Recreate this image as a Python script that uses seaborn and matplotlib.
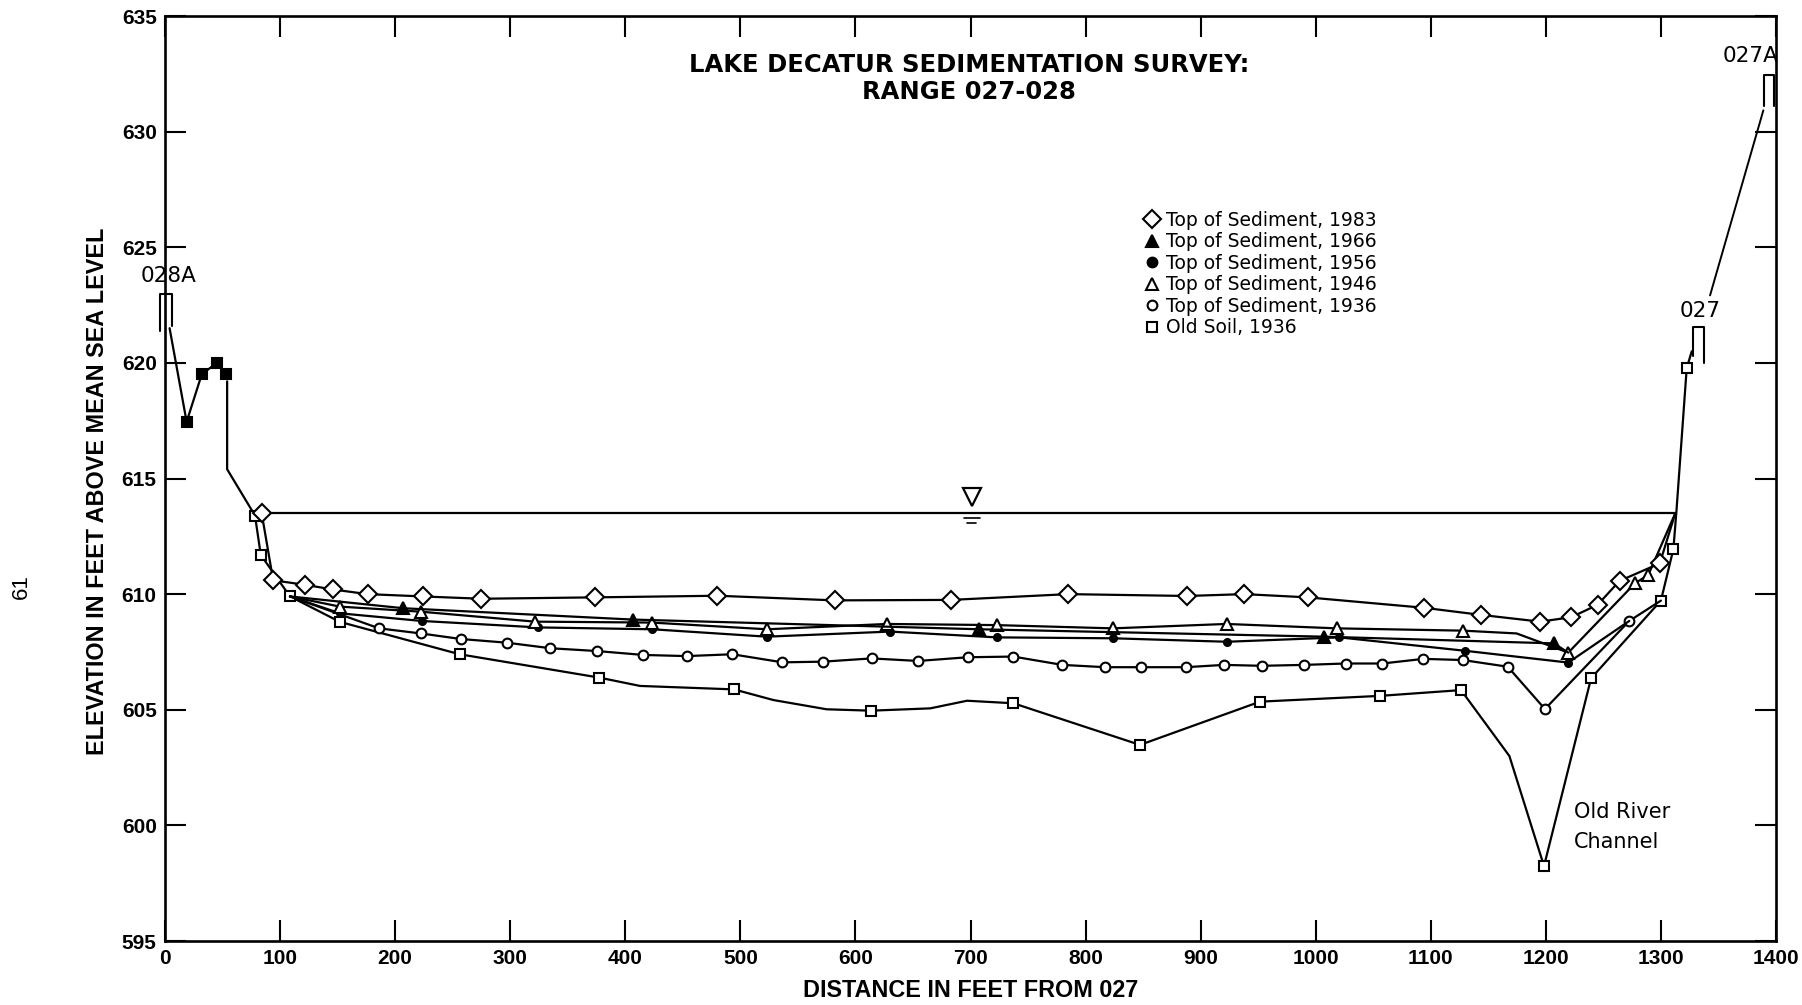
import matplotlib
matplotlib.use("Agg")
import matplotlib.pyplot as plt
import seaborn as sns
from matplotlib.lines import Line2D

# ---------------- data ----------------
xticks = list(range(0, 1401, 100))
yticks = list(range(595, 636, 5))

bank_028a_x = [4, 18.8, 31.9, 44.9, 53]
bank_028a_y = [621.5, 617.45, 619.5, 620.0, 619.5]
bank_028a_mark = [0, 1, 1, 1, 1]

old_soil_x = [54, 54, 78.2, 83.2, 108.6, 152, 256, 377.4, 412.8, 494.5, 528.7, 575, 613.5, 665, 697,
              737.3, 847.3, 951.6, 1055.9, 1126.3, 1168.3, 1198.4, 1239.3, 1300, 1310.8, 1313.5, 1322.4, 1326.8]
old_soil_y = [619.2, 615.4, 613.4, 611.7, 609.9, 608.8, 607.4, 606.39, 606.03, 605.88, 605.42, 605.02, 604.96,
              605.06, 605.39, 605.28, 603.48, 605.35, 605.6, 605.85, 603.0, 598.24, 606.36, 609.72, 611.94,
              613.6, 619.77, 620.5]
old_soil_mark = [0, 0, 1, 1, 1, 1, 1, 1, 0, 1, 0, 0, 1, 0, 0, 1, 1, 1, 1, 1, 0, 1, 1, 1, 1, 0, 1, 0]

sed1936_x = [108.6, 186, 222.3, 257, 297, 335, 375, 415.7, 453.4, 493, 536.6, 572, 614, 654.6, 697.5, 737.2,
             779.8, 817, 848.2, 887, 920.3, 953, 990, 1026.3, 1058, 1093.6, 1127.8, 1166.9, 1199.2, 1272.5, 1300]
sed1936_y = [609.9, 608.52, 608.3, 608.06, 607.9, 607.66, 607.54, 607.37, 607.32, 607.4, 607.05, 607.08,
             607.22, 607.11, 607.27, 607.3, 606.94, 606.84, 606.84, 606.84, 606.94, 606.9, 606.94, 607.0,
             607.0, 607.2, 607.15, 606.86, 605.03, 608.84, 609.72]
sed1936_mark = [0] + [1] * 29 + [0]

sed1946_x = [108.6, 152, 222.5, 321.5, 423, 523, 627.7, 722.6, 823.6, 922.5, 1018.2, 1128.3, 1174.6, 1219.5,
             1277.5, 1289, 1312.5]
sed1946_y = [609.9, 609.46, 609.24, 608.81, 608.77, 608.48, 608.71, 608.66, 608.52, 608.71, 608.52, 608.42,
             608.3, 607.47, 610.47, 610.83, 613.5]
sed1946_mark = [0, 1, 1, 1, 1, 1, 1, 1, 1, 1, 1, 1, 0, 1, 1, 1, 0]

sed1956_x = [108.6, 152, 223, 324.4, 423.5, 523, 630, 722.8, 824, 923, 1020.6, 1129.8, 1219.5, 1272.5]
sed1956_y = [609.9, 609.17, 608.84, 608.56, 608.48, 608.16, 608.38, 608.13, 608.09, 607.94, 608.13, 607.55,
             607.04, 608.84]
sed1956_mark = [0] + [1] * 12 + [0]

sed1966_x = [108.6, 207, 406.4, 707.7, 1007.2, 1207, 1219.5]
sed1966_y = [609.9, 609.39, 608.9, 608.48, 608.16, 607.87, 607.47]
sed1966_mark = [0, 1, 1, 1, 1, 1, 0]

sed1983_x = [84, 94, 122, 146, 176, 224, 275, 374, 480, 582, 683, 785, 888, 938, 993, 1094, 1144, 1195,
             1222, 1245, 1264, 1299, 1312.5]
sed1983_y = [613.5, 610.6, 610.4, 610.2, 610.0, 609.9, 609.8, 609.86, 609.93, 609.73, 609.75, 610.0, 609.92,
             610.0, 609.86, 609.41, 609.1, 608.81, 609.0, 609.54, 610.57, 611.33, 613.5]
sed1983_mark = [1] * 22 + [0]

water_x = [84, 1312.5]
water_y = [613.5, 613.5]

link_027_x = [1342.7, 1389]
link_027_y = [622.92, 630.92]

legend_labels = ["Top of Sediment, 1983", "Top of Sediment, 1966", "Top of Sediment, 1956",
                 "Top of Sediment, 1946", "Top of Sediment, 1936", "Old Soil, 1936"]

# ---------------- drawing ----------------
sns.set_style("ticks")
plt.rcParams["font.family"] = ["Liberation Sans", "DejaVu Sans"]
plt.rcParams["text.color"] = "black"
plt.rcParams["axes.labelcolor"] = "black"
plt.rcParams["xtick.color"] = "black"
plt.rcParams["ytick.color"] = "black"

W, H = 1802, 1005
fig = plt.figure(figsize=(W / 100, H / 100), dpi=100)
fig.patch.set_facecolor("white")
ax = fig.add_axes([165 / W, 1 - 941 / H, (1776 - 165) / W, (941 - 16) / H])
ax.set_facecolor("white")

LW = 1.6
DJ = ["DejaVu Sans"]


def draw(x, y, mark, marker, ms, mfc, z=3):
    idx = [i for i, m in enumerate(mark) if m]
    sns.lineplot(x=x, y=y, sort=False, estimator=None, color="black", lw=LW,
                 marker=marker, markersize=ms, markerfacecolor=mfc, markeredgecolor="black",
                 markeredgewidth=1.5, markevery=idx, ax=ax, legend=False, zorder=z)


sns.lineplot(x=water_x, y=water_y, sort=False, estimator=None, color="black", lw=LW, ax=ax, legend=False)
sns.lineplot(x=link_027_x, y=link_027_y, sort=False, estimator=None, color="black", lw=1.4, ax=ax, legend=False)

draw(bank_028a_x, bank_028a_y, bank_028a_mark, "s", 7, "black")
draw(old_soil_x, old_soil_y, old_soil_mark, "s", 7, "white", 3)
draw(sed1936_x, sed1936_y, sed1936_mark, "o", 7, "white", 4)
draw(sed1956_x, sed1956_y, sed1956_mark, "o", 5, "black", 5)
draw(sed1946_x, sed1946_y, sed1946_mark, "^", 8, "white", 6)
draw(sed1966_x, sed1966_y, sed1966_mark, "^", 8, "black", 7)
draw(sed1983_x, sed1983_y, sed1983_mark, "D", 9, "white", 8)

# station brackets
ax.plot([-4.3, -4.3, 5.8, 5.8], [621.4, 623.0, 623.0, 621.6], color="black", lw=1.5, clip_on=False)
ax.plot([1328, 1328, 1337.5, 1337.5], [620.3, 621.55, 621.55, 620.0], color="black", lw=1.5, clip_on=False)
ax.plot([1390, 1390, 1398.5, 1398.5], [631.1, 632.45, 632.45, 631.1], color="black", lw=1.5, clip_on=False)
ax.text(3.5, 623.75, "028A", ha="center", va="center", fontsize=15.5, family=DJ, color="black")
ax.text(1334, 622.25, "027", ha="center", va="center", fontsize=15.5, family=DJ, color="black")
ax.text(1378, 633.25, "027A", ha="center", va="center", fontsize=15.5, family=DJ, color="black")

# water surface symbol
ax.plot([701], [614.2], marker="v", ms=13, mfc="white", mec="black", mew=1.6, ls="none")
ax.plot([694, 708], [613.28, 613.28], color="black", lw=1.2)
ax.plot([697, 705], [613.08, 613.08], color="black", lw=1.2)

ax.text(1224.5, 600.6, "Old River", ha="left", va="center", fontsize=15, family=DJ, color="black")
ax.text(1224.5, 599.3, "Channel", ha="left", va="center", fontsize=15, family=DJ, color="black")

ax.set_xlim(0, 1400)
ax.set_ylim(595, 635)
ax.set_xticks(xticks)
ax.set_yticks(yticks)
ax.tick_params(direction="in", length=15, width=1.5, top=True, right=True, labelsize=15, pad=6,
               colors="black")
for lab in ax.get_xticklabels() + ax.get_yticklabels():
    lab.set_fontweight("bold")
for s in ax.spines.values():
    s.set_visible(True)
    s.set_linewidth(1.9)
    s.set_color("black")

ax.set_xlabel("DISTANCE IN FEET FROM 027", fontsize=16.8, fontweight="bold", labelpad=8, color="black")
ax.set_ylabel("ELEVATION IN FEET ABOVE MEAN SEA LEVEL", fontsize=16.8, fontweight="bold", labelpad=9,
              color="black")
ax.yaxis.label.set_y(0.4865)

fig.text(969 / W, 1 - 65.5 / H, "LAKE DECATUR SEDIMENTATION SURVEY:", ha="center", va="center",
         fontsize=17.5, fontweight="bold", family=DJ, color="black")
fig.text(969 / W, 1 - 92 / H, "RANGE 027-028", ha="center", va="center", fontsize=17.5,
         fontweight="bold", family=DJ, color="black")
fig.text(21 / W, 1 - 587 / H, "61", ha="center", va="center", fontsize=16, rotation=90, color="black")

handles = [
    Line2D([], [], ls="none", marker="D", ms=9, mfc="white", mec="black", mew=1.5),
    Line2D([], [], ls="none", marker="^", ms=9, mfc="black", mec="black", mew=1.5),
    Line2D([], [], ls="none", marker="o", ms=7, mfc="black", mec="black", mew=1.5),
    Line2D([], [], ls="none", marker="^", ms=9, mfc="white", mec="black", mew=1.5),
    Line2D([], [], ls="none", marker="o", ms=7, mfc="white", mec="black", mew=1.5),
    Line2D([], [], ls="none", marker="s", ms=7, mfc="white", mec="black", mew=1.5),
]
leg = fig.legend(handles, legend_labels, loc="upper left", bbox_to_anchor=(1144 / W, 1 - 211 / H),
                 frameon=False, prop={"family": "DejaVu Sans", "size": 13.5}, handlelength=0.8,
                 handletextpad=0.35, labelspacing=0.13, borderpad=0, borderaxespad=0)
for t in leg.get_texts():
    t.set_color("black")

fig.savefig("out.png", dpi=100, facecolor="white")
